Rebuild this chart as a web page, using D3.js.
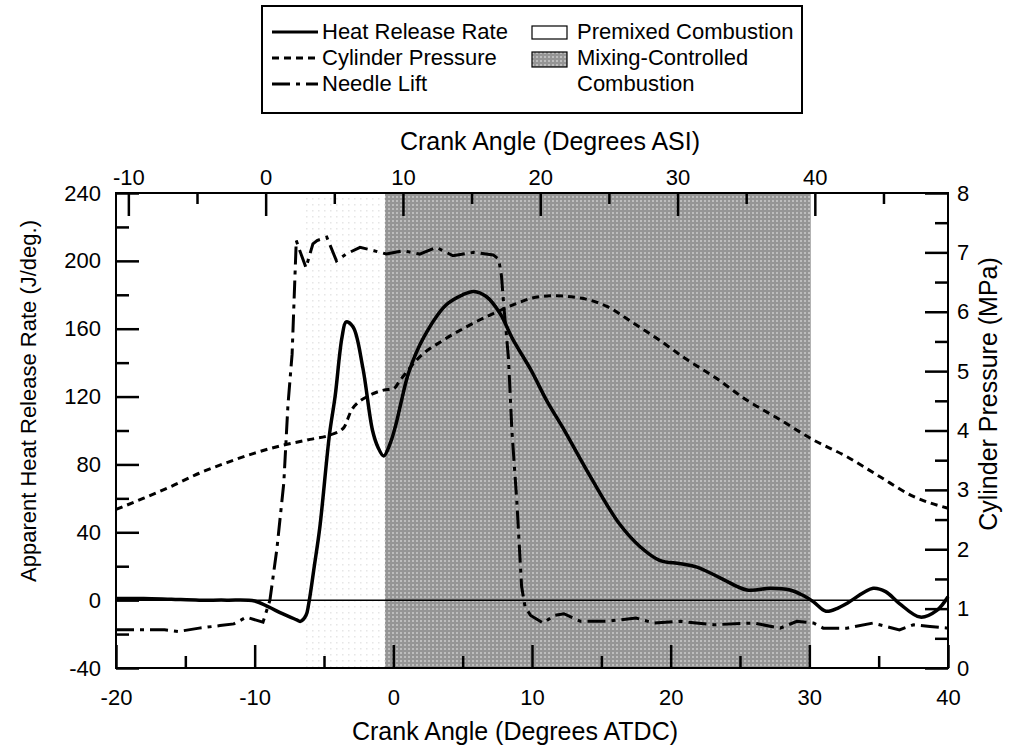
<!DOCTYPE html>
<html>
<head>
<meta charset="utf-8">
<script src="https://cdnjs.cloudflare.com/ajax/libs/d3/7.8.5/d3.min.js"></script>
<style>
  body { margin: 0; background: #fff; }
  svg { font-family: "Liberation Sans", Arial, Helvetica, sans-serif; }
</style>
</head>
<body>
<svg width="1026" height="753"></svg>
<script>
// heat release rate, J/deg, vs crank angle (deg ATDC)
var hrrAngle = [-20, -18, -16, -14, -12, -10, -9, -8, -7, -6.7, -6.3, -6.1, -5.7, -5.3, -4.6, -4.2, -3.7, -3.4, -2.9, -2.2, -1.5, -1.1, -0.7, -0.2, 0.2, 0.6, 1.1, 2.2, 3.8, 5.0, 5.8, 6.7, 7.7, 8.6, 9.9, 11.1, 12.2, 14.2, 16.3, 17.8, 19.2, 20.7, 21.9, 23.6, 25.5, 27.2, 28.6, 29.5, 30.3, 31.2, 32.1, 32.7, 34.6, 35.5, 36.5, 38, 39.2, 40];
var hrrValue = [1, 1, 0.5, 0, 0, -0.5, -4, -8, -11.5, -12.5, -9, -2, 20, 43, 98, 120, 155, 164, 161, 137, 100, 90, 85, 93, 104, 118, 134, 155, 174, 180, 182, 179, 169, 154, 136, 117, 102, 73, 45, 31.5, 23.5, 21.5, 19.5, 13, 6, 7, 6, 3, -1, -6.5, -4.5, -2, 7, 5, -2, -10, -6, 2];

// cylinder pressure, MPa
var pressAngle = [-20, -18, -16, -14, -12, -10, -8, -6, -4.5, -3.6, -3.0, -2.5, -1.9, -0.7, 0, 0.5, 1.9, 3.6, 5.3, 7.2, 8.9, 10.0, 11.5, 13.5, 15.4, 17.3, 19.2, 21.2, 23.1, 25.5, 27.9, 30.3, 32.7, 35.1, 37.5, 40];
var pressValue = [2.67, 2.86, 3.06, 3.28, 3.46, 3.62, 3.75, 3.85, 3.93, 4.04, 4.35, 4.48, 4.57, 4.68, 4.7, 4.85, 5.24, 5.52, 5.75, 5.97, 6.14, 6.23, 6.27, 6.23, 6.09, 5.81, 5.52, 5.19, 4.91, 4.51, 4.18, 3.84, 3.56, 3.22, 2.89, 2.69];

// needle lift, drawn on the heat release axis (no unit)
var needleAngle = [-20, -18, -16.5, -15.5, -14, -12.5, -11.5, -10.6, -9.4, -8.9, -8.4, -7.9, -7.6, -7.3, -7.0, -6.7, -6.3, -5.8, -5.5, -4.8, -4.1, -3.4, -2.4, -1.4, -0.5, 0.7, 1.9, 3.1, 4.3, 5.8, 7.2, 7.6, 7.8, 7.95, 8.3, 8.55, 8.9, 9.25, 9.5, 9.9, 10.8, 11.6, 12.3, 13.5, 15.4, 17.5, 18.8, 20.7, 23.1, 26, 27.9, 29.1, 30.3, 31, 32.7, 34.6, 36.5, 37.5, 38.7, 40];
var needleValue = [-17.5, -17.5, -17.5, -18.5, -16.5, -15, -14, -10, -13, 0, 30, 69, 115, 145, 212, 205, 196, 210, 212, 214, 200, 204, 208, 206, 204, 206, 204, 208, 203, 205, 203.5, 201, 191, 175, 143, 100, 59, 8, -4, -9, -13.5, -9, -8, -12.5, -12.5, -10.5, -13.5, -12.5, -14.5, -13.5, -16.5, -12.5, -13.5, -16.5, -16.5, -13.5, -17.5, -14.5, -15.5, -16.5];

// combustion phases (deg ATDC)
var premixed = [-6.3, -0.6];
var mixing = [-0.6, 30.1];

var atdcTicks = [-20, -10, 0, 10, 20, 30, 40];
var asiTicks = [-10, 0, 10, 20, 30, 40];
var asiRange = [-10.9, 49.7];
var hrrTicks = [-40, 0, 40, 80, 120, 160, 200, 240];
var pressTicks = [0, 1, 2, 3, 4, 5, 6, 7, 8];

var svg = d3.select("svg"),
    pLeft = 116, pRight = 948, pTop = 193, pBottom = 668;

var x = d3.scaleLinear().domain([-20, 40]).range([pLeft, pRight]);
var xAsi = d3.scaleLinear().domain(asiRange).range([pLeft, pRight]);
var y = d3.scaleLinear().domain([-40, 240]).range([pBottom, pTop]);
var yP = d3.scaleLinear().domain([0, 8]).range([pBottom, pTop]);

var defs = svg.append("defs");
var mix = defs.append("pattern").attr("id", "mixGray")
    .attr("patternUnits", "userSpaceOnUse").attr("width", 4).attr("height", 4);
mix.append("rect").attr("width", 4).attr("height", 4).attr("fill", "#959595");
mix.append("rect").attr("width", 2).attr("height", 2).attr("fill", "#bdbdbd");

var pre = defs.append("pattern").attr("id", "preDots")
    .attr("patternUnits", "userSpaceOnUse").attr("width", 6).attr("height", 6);
pre.append("rect").attr("width", 6).attr("height", 6).attr("fill", "#fff");
pre.append("rect").attr("width", 1.5).attr("height", 1.5).attr("fill", "#e6e6e6");

// shaded phases
svg.append("rect")
    .attr("x", x(premixed[0])).attr("y", pTop)
    .attr("width", x(premixed[1]) - x(premixed[0])).attr("height", pBottom - pTop)
    .attr("fill", "url(#preDots)");
svg.append("rect")
    .attr("x", x(mixing[0])).attr("y", pTop)
    .attr("width", x(mixing[1]) - x(mixing[0])).attr("height", pBottom - pTop)
    .attr("fill", "url(#mixGray)");

// zero line
svg.append("line")
    .attr("x1", pLeft).attr("x2", pRight)
    .attr("y1", y(0)).attr("y2", y(0))
    .attr("stroke", "#000").attr("stroke-width", 1.5);

// curves
var hrrLine = d3.line().x(d => x(d[0])).y(d => y(d[1])).curve(d3.curveCatmullRom.alpha(0.5));
var pressLine = d3.line().x(d => x(d[0])).y(d => yP(d[1])).curve(d3.curveMonotoneX);
var needleLine = d3.line().x(d => x(d[0])).y(d => y(d[1]));

svg.append("path").datum(d3.zip(pressAngle, pressValue))
    .attr("d", pressLine).attr("fill", "none")
    .attr("stroke", "#000").attr("stroke-width", 3).attr("stroke-dasharray", "7,5");

svg.append("path").datum(d3.zip(needleAngle, needleValue))
    .attr("d", needleLine).attr("fill", "none")
    .attr("stroke", "#000").attr("stroke-width", 3).attr("stroke-dasharray", "18,6,4,6");

svg.append("path").datum(d3.zip(hrrAngle, hrrValue))
    .attr("d", hrrLine).attr("fill", "none")
    .attr("stroke", "#000").attr("stroke-width", 3.5).attr("stroke-linejoin", "round");

// frame
svg.append("rect")
    .attr("x", pLeft).attr("y", pTop).attr("width", pRight - pLeft).attr("height", pBottom - pTop)
    .attr("fill", "none").attr("stroke", "#000").attr("stroke-width", 2);

var fmt = function(d) { return String(d); };

// axes with inward ticks (major labelled, minor unlabelled)
function drawAxis(axis, tx, ty) {
    var g = svg.append("g")
        .attr("transform", "translate(" + tx + "," + ty + ")")
        .call(axis);
    g.select(".domain").remove();
    g.selectAll(".tick line").attr("stroke", "#000").attr("stroke-width", 2.5);
    g.selectAll(".tick text").attr("fill", "#000").style("font-size", "22px");
    g.attr("font-family", null);
}

drawAxis(d3.axisBottom(x).tickValues(atdcTicks).tickSize(-23).tickPadding(21).tickFormat(fmt), 0, pBottom);
drawAxis(d3.axisBottom(x).tickValues(d3.range(-15, 40, 10)).tickSize(-12).tickFormat(""), 0, pBottom);
drawAxis(d3.axisTop(xAsi).tickValues(asiTicks).tickSize(-23).tickPadding(8).tickFormat(fmt), 0, pTop);
drawAxis(d3.axisTop(xAsi).tickValues(d3.range(-5, 50, 10)).tickSize(-11).tickFormat(""), 0, pTop);
drawAxis(d3.axisLeft(y).tickValues(hrrTicks).tickSize(-23).tickPadding(15).tickFormat(fmt), pLeft, 0);
drawAxis(d3.axisLeft(y).tickValues(d3.range(-20, 240, 40)).tickSize(-13).tickFormat(""), pLeft, 0);
drawAxis(d3.axisRight(yP).tickValues(pressTicks).tickSize(-23).tickPadding(9).tickFormat(fmt), pRight, 0);
drawAxis(d3.axisRight(yP).tickValues(d3.range(0.5, 8, 1)).tickSize(-13).tickFormat(""), pRight, 0);

// axis titles
svg.append("text").attr("x", 550).attr("y", 150).attr("text-anchor", "middle")
    .style("font-size", "25px").text("Crank Angle (Degrees ASI)");
svg.append("text").attr("x", 515).attr("y", 740).attr("text-anchor", "middle")
    .style("font-size", "25px").text("Crank Angle (Degrees ATDC)");
svg.append("text").attr("transform", "translate(36,401) rotate(-90)").attr("text-anchor", "middle")
    .style("font-size", "22px").text("Apparent Heat Release Rate (J/deg.)");
svg.append("text").attr("transform", "translate(997,394) rotate(-90)").attr("text-anchor", "middle")
    .style("font-size", "25px").text("Cylinder Pressure (MPa)");

// legend
var legend = svg.append("g");
legend.append("rect").attr("x", 262).attr("y", 6).attr("width", 540).attr("height", 107)
    .attr("fill", "#fff").attr("stroke", "#000").attr("stroke-width", 2);

var lineItems = ["Heat Release Rate", "Cylinder Pressure", "Needle Lift"];
var lineDash = [null, "7,5", "18,6,4,6"];
var rowY = [32, 58, 84];

lineItems.forEach(function(name, i) {
    legend.append("line").attr("x1", 272).attr("x2", 318)
        .attr("y1", rowY[i]).attr("y2", rowY[i])
        .attr("stroke", "#000").attr("stroke-width", 3)
        .attr("stroke-dasharray", lineDash[i]);
    legend.append("text").attr("x", 322).attr("y", rowY[i] + 7)
        .style("font-size", "22px").text(name);
});

legend.append("rect").attr("x", 532).attr("y", 26).attr("width", 35).attr("height", 13)
    .attr("fill", "#fff").attr("stroke", "#000").attr("stroke-width", 1.2);
legend.append("text").attr("x", 577).attr("y", 39).style("font-size", "22px").text("Premixed Combustion");
legend.append("rect").attr("x", 532).attr("y", 52).attr("width", 35).attr("height", 15)
    .attr("fill", "url(#mixGray)").attr("stroke", "#000").attr("stroke-width", 1.2);
legend.append("text").attr("x", 577).attr("y", 65).style("font-size", "22px").text("Mixing-Controlled");
legend.append("text").attr("x", 577).attr("y", 91).style("font-size", "22px").text("Combustion");
</script>
</body>
</html>
